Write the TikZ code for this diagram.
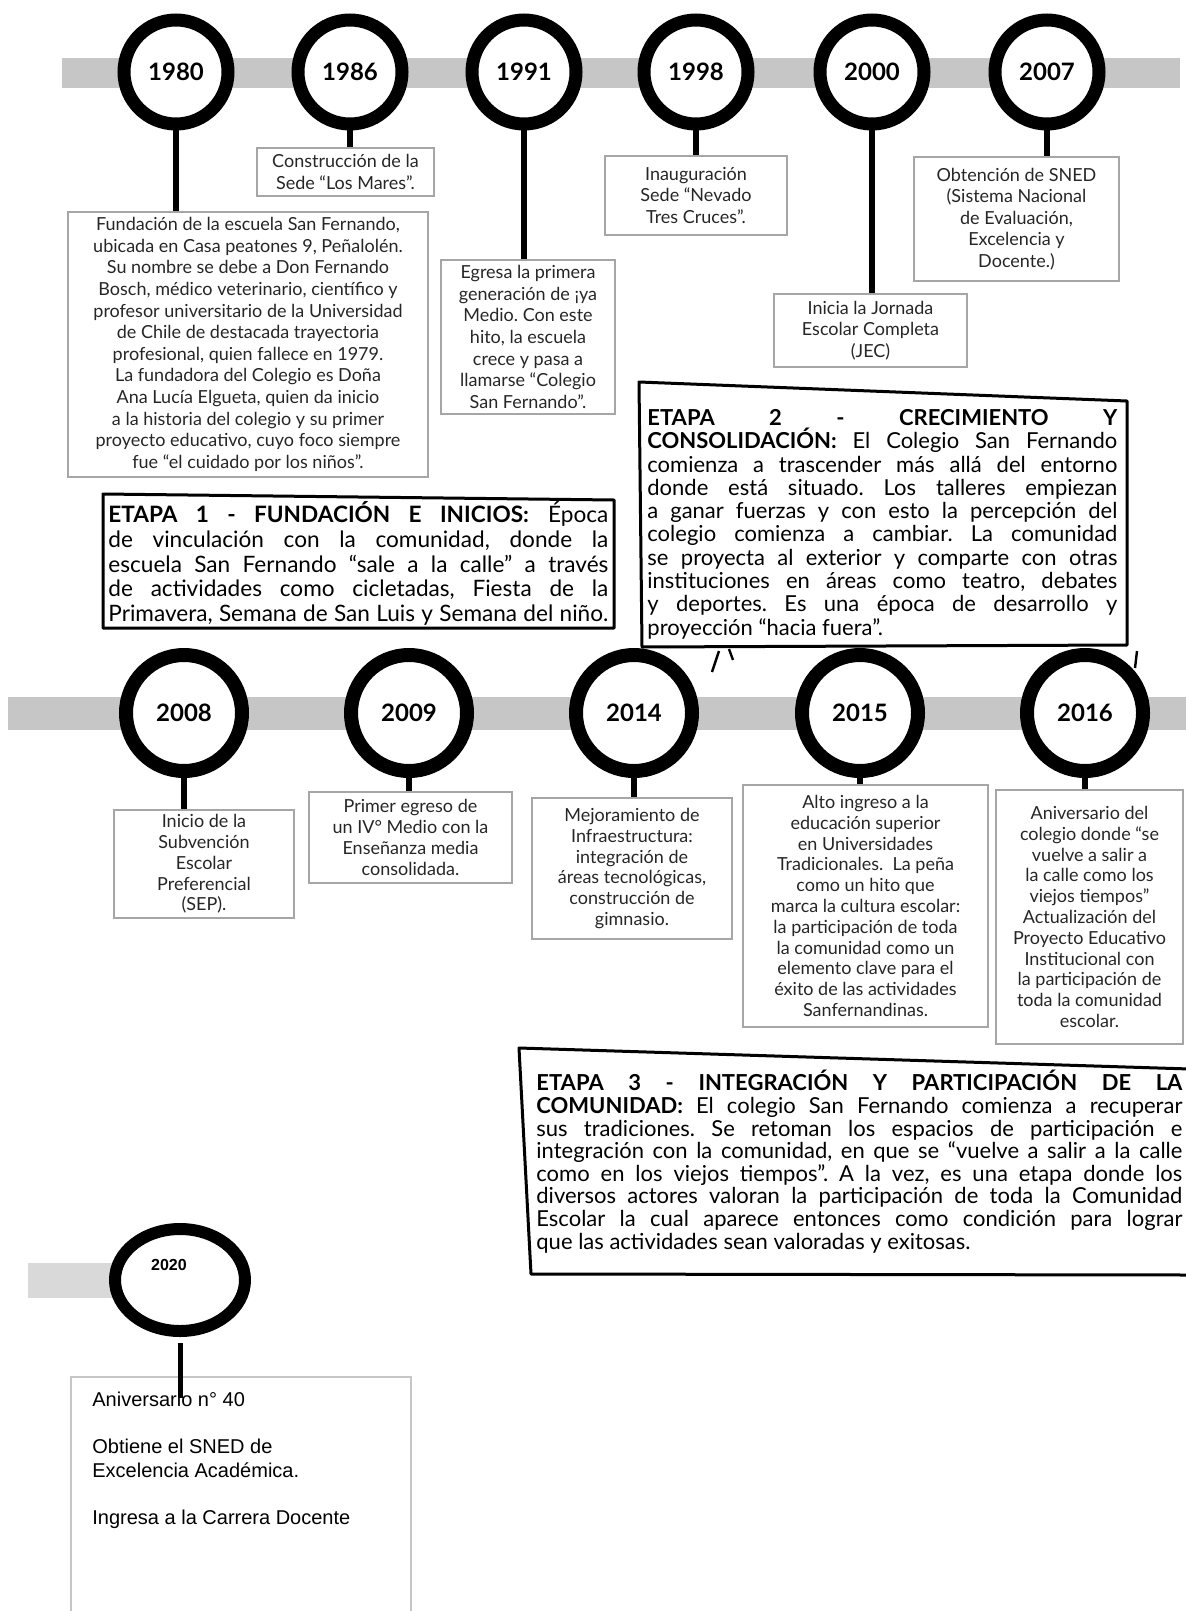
\documentclass[tikz,border=0pt]{standalone}
\usepackage{fontspec}
\setmainfont{Lato}
\newfontfamily\arialfont{Liberation Sans}
\usetikzlibrary{shapes.geometric}
\frenchspacing

\newcommand{\jline}[2]{\makebox[#1][s]{#2}}

\begin{document}
\begin{tikzpicture}[x=0.5pt,y=-0.5pt,
        yearring/.style={circle,draw,line width=6.5pt,fill=white,minimum size=52pt,inner sep=0pt,
             font=\fontsize{12pt}{14pt}\selectfont\bfseries},
        eventbox/.style={rectangle,draw=gray!70,line width=1pt,anchor=north west,align=center,
             inner sep=1pt,text=black!85},
        rowone/.style={font=\fontsize{9pt}{10.8pt}\selectfont},
        rowtwo/.style={font=\fontsize{9pt}{10.4pt}\selectfont},
        stem/.style={line width=3.2pt},
        etapa/.style={anchor=north west,inner sep=0pt,align=left,font=\fontsize{11.3pt}{12.4pt}\selectfont},
        etapaline/.style={line width=1.5pt,line join=round}]
        \useasboundingbox (0,0) rectangle (1186,1611);

        % bars
        \fill[gray!45] (62,58) rectangle (1180,88);
        \fill[gray!45] (8,697) rectangle (1186,730);
        \fill[gray!30] (28,1263) rectangle (180,1298);

        % first row
        \node[yearring] (y1980) at (176,72) {1980};
        \node[yearring] (y1986) at (350,72) {1986};
        \node[yearring] (y1991) at (524,72) {1991};
        \node[yearring] (y1998) at (696,72) {1998};
        \node[yearring] (y2000) at (872,72) {2000};
        \node[yearring] (y2007) at (1047,72) {2007};

        \node[eventbox,rowone,minimum width=180pt,minimum height=132.5pt] (e1980) at (67,211)
             {Fundación de la escuela San Fernando,\\ ubicada en Casa peatones 9, Peñalolén.\\
              Su nombre se debe a Don Fernando\\ Bosch, médico veterinario, científico y\\
              profesor universitario de la Universidad\\ de Chile de destacada trayectoria\\
              profesional, quien fallece en 1979.\\ La fundadora del Colegio es Doña\\
              Ana Lucía Elgueta, quien da inicio\\ a la historia del colegio y su primer\\
              proyecto educativo, cuyo foco siempre\\ fue “el cuidado por los niños”.};
             \node[eventbox,rowone,minimum width=88.5pt,minimum height=24pt] (e1986) at (256,147)
                  {Construcción de la\\ Sede “Los Mares”.};
                  \node[eventbox,rowone,minimum width=87pt,minimum height=77pt] (e1991) at (440,259)
                  {Egresa la primera\\ generación de ¡ya\\ Medio. Con este\\ hito, la escuela\\
                   crece y pasa a\\ llamarse “Colegio\\ San Fernando”.};
                  \node[eventbox,rowone,minimum width=91pt,minimum height=39.5pt] (e1998) at (604,155)
                  {Inauguración\\ Sede “Nevado\\ Tres Cruces”.};
                  \node[eventbox,rowone,minimum width=96.5pt,minimum height=36.5pt] (e2000) at (773,293)
                  {Inicia la Jornada\\ Escolar Completa\\ (JEC)};
                  \node[eventbox,rowone,minimum width=102.5pt,minimum height=62pt] (e2007) at (913,156)
                  {Obtención de SNED\\ (Sistema Nacional\\ de Evaluación,\\ Excelencia y\\ Docente.)};

                  \draw[stem] (y1980) -- (y1980 |- e1980.north);
                  \draw[stem] (y1986) -- (y1986 |- e1986.north);
                  \draw[stem] (y1991) -- (y1991 |- e1991.north);
                  \draw[stem] (y1998) -- (y1998 |- e1998.north);
                  \draw[stem] (y2000) -- (y2000 |- e2000.north);
                  \draw[stem] (y2007) -- (y2007 |- e2007.north);

                  % etapa 1 and 2
                  \draw[etapaline] (103,494) -- (614,500) -- (614,628) -- (103,628) -- cycle;
                  \node[etapa] (etapa1) at (108,501)
                  {\jline{250pt}{\textbf{ETAPA 1 - FUNDACIÓN E INICIOS:} Época}\\
                   \jline{250pt}{de vinculación con la comunidad, donde la}\\
                   \jline{250pt}{escuela San Fernando “sale a la calle” a través}\\
                   \jline{250pt}{de actividades como cicletadas, Fiesta de la}\\
                   \jline{250pt}{Primavera, Semana de San Luis y Semana del niño.}};

                  \draw[etapaline] (639,382) -- (1127,401) -- (1127,645) -- (642,647) -- cycle;
                  \node[etapa,font=\fontsize{11pt}{11.65pt}\selectfont] (etapa2) at (647,409)
                  {\jline{235pt}{\textbf{ETAPA 2 - CRECIMIENTO Y}}\\
                   \jline{235pt}{\textbf{CONSOLIDACIÓN:} El Colegio San Fernando}\\
                   \jline{235pt}{comienza a trascender más allá del entorno}\\
                   \jline{235pt}{donde está situado. Los talleres empiezan}\\
                   \jline{235pt}{a ganar fuerzas y con esto la percepción del}\\
                   \jline{235pt}{colegio comienza a cambiar. La comunidad}\\
                   \jline{235pt}{se proyecta al exterior y comparte con otras}\\
                   \jline{235pt}{instituciones en áreas como teatro, debates}\\
                   \jline{235pt}{y deportes. Es una época de desarrollo y}\\
                   proyección “hacia fuera”.};
                  \draw[line width=1.2pt] (719,651) -- (712,672);
                  \draw[line width=1.2pt] (729,649) -- (733,660);
                  \draw[line width=1.2pt] (1137,651) -- (1135,668);

        % second row
        \node[yearring,line width=7pt,minimum size=58pt] (y2008) at (184,713) {2008};
        \node[yearring,line width=7pt,minimum size=58pt] (y2009) at (409,713) {2009};
        \node[yearring,line width=7pt,minimum size=58pt] (y2014) at (634,713) {2014};
        \node[yearring,line width=7pt,minimum size=58pt] (y2015) at (860,713) {2015};
        \node[yearring,line width=7pt,minimum size=58pt] (y2016) at (1085,713) {2016};

                  \node[eventbox,rowtwo,minimum width=90pt,minimum height=54pt] (e2008) at (113,809)
                  {Inicio de la\\ Subvención\\ Escolar\\ Preferencial\\ (SEP).};
                  \node[eventbox,rowtwo,minimum width=101.5pt,minimum height=45.5pt] (e2009) at (308,791)
                  {Primer egreso de\\ un IV° Medio con la\\ Enseñanza media\\ consolidada.};
                  \node[eventbox,rowtwo,minimum width=100pt,minimum height=70.5pt] (e2014) at (531,797)
                  {Mejoramiento de\\ Infraestructura:\\ integración de\\ áreas tecnológicas,\\
                   construcción de\\ gimnasio.};
                  \node[eventbox,rowtwo,minimum width=122.5pt,minimum height=121pt] (e2015) at (742,784)
                  {Alto ingreso a la\\ educación superior\\ en Universidades\\ Tradicionales.\ \ La peña\\
                   como un hito que\\ marca la cultura escolar:\\ la participación de toda\\
                   la comunidad como un\\ elemento clave para el\\ éxito de las actividades\\ Sanfernandinas.};
                  \node[eventbox,rowtwo,minimum width=93.5pt,minimum height=127pt] (e2016) at (995,789)
                  {Aniversario del\\ colegio donde “se\\ vuelve a salir a\\ la calle como los\\
                   viejos tiempos”\\ Actualización del\\ Proyecto Educativo\\ Institucional con\\
                   la participación de\\ toda la comunidad\\ escolar.};

                  \draw[stem] (y2008) -- (y2008 |- e2008.north);
                  \draw[stem] (y2009) -- (y2009 |- e2009.north);
                  \draw[stem] (y2014) -- (y2014 |- e2014.north);
                  \draw[stem] (y2015) -- (y2015 |- e2015.north);
                  \draw[stem] (y2016) -- (y2016 |- e2016.north);

                  % etapa 3
                  \draw[etapaline] (1190,1069) -- (519,1048) -- (531,1274) -- (1190,1275);
                  \node[etapa,font=\fontsize{11pt}{11.3pt}\selectfont] (etapa3) at (536,1070)
                  {\jline{323pt}{\textbf{ETAPA 3 - INTEGRACIÓN Y PARTICIPACIÓN DE LA}}\\
                   \jline{323pt}{\textbf{COMUNIDAD:} El colegio San Fernando comienza a recuperar}\\
                   \jline{323pt}{sus tradiciones. Se retoman los espacios de participación e}\\
                   \jline{323pt}{integración con la comunidad, en que se “vuelve a salir a la calle}\\
                   \jline{323pt}{como en los viejos tiempos”. A la vez, es una etapa donde los}\\
                   \jline{323pt}{diversos actores valoran la participación de toda la Comunidad}\\
                   \jline{323pt}{Escolar la cual aparece entonces como condición para lograr}\\
                   que las actividades sean valoradas y exitosas.};

        % 2020
        \node[ellipse,draw,line width=6pt,fill=white,minimum width=65pt,minimum height=51pt]
             (y2020) at (180,1280) {};
        \node[font=\arialfont\bfseries\fontsize{8pt}{9pt}\selectfont] (l2020)
             at ([xshift=-5.5pt,yshift=7.5pt]y2020.center) {2020};
        \node[rectangle,draw=gray!45,line width=1pt,anchor=north west,minimum width=170pt,
             minimum height=130pt] (e2020) at (70,1376) {};
        \node[anchor=north west,align=left,inner sep=0pt,font=\arialfont\fontsize{10pt}{11.75pt}\selectfont]
             (t2020) at ([xshift=11pt,yshift=-8pt]e2020.north west)
             {Aniversario n° 40\\[11.75pt] Obtiene el SNED de\\ Excelencia Académica.\\[11.75pt]
              Ingresa a la Carrera Docente};
        \coordinate (s2020) at (180,1398);
        \draw[line width=2.5pt,shorten <=3pt] (y2020) -- (s2020);
      \end{tikzpicture}
\end{document}
